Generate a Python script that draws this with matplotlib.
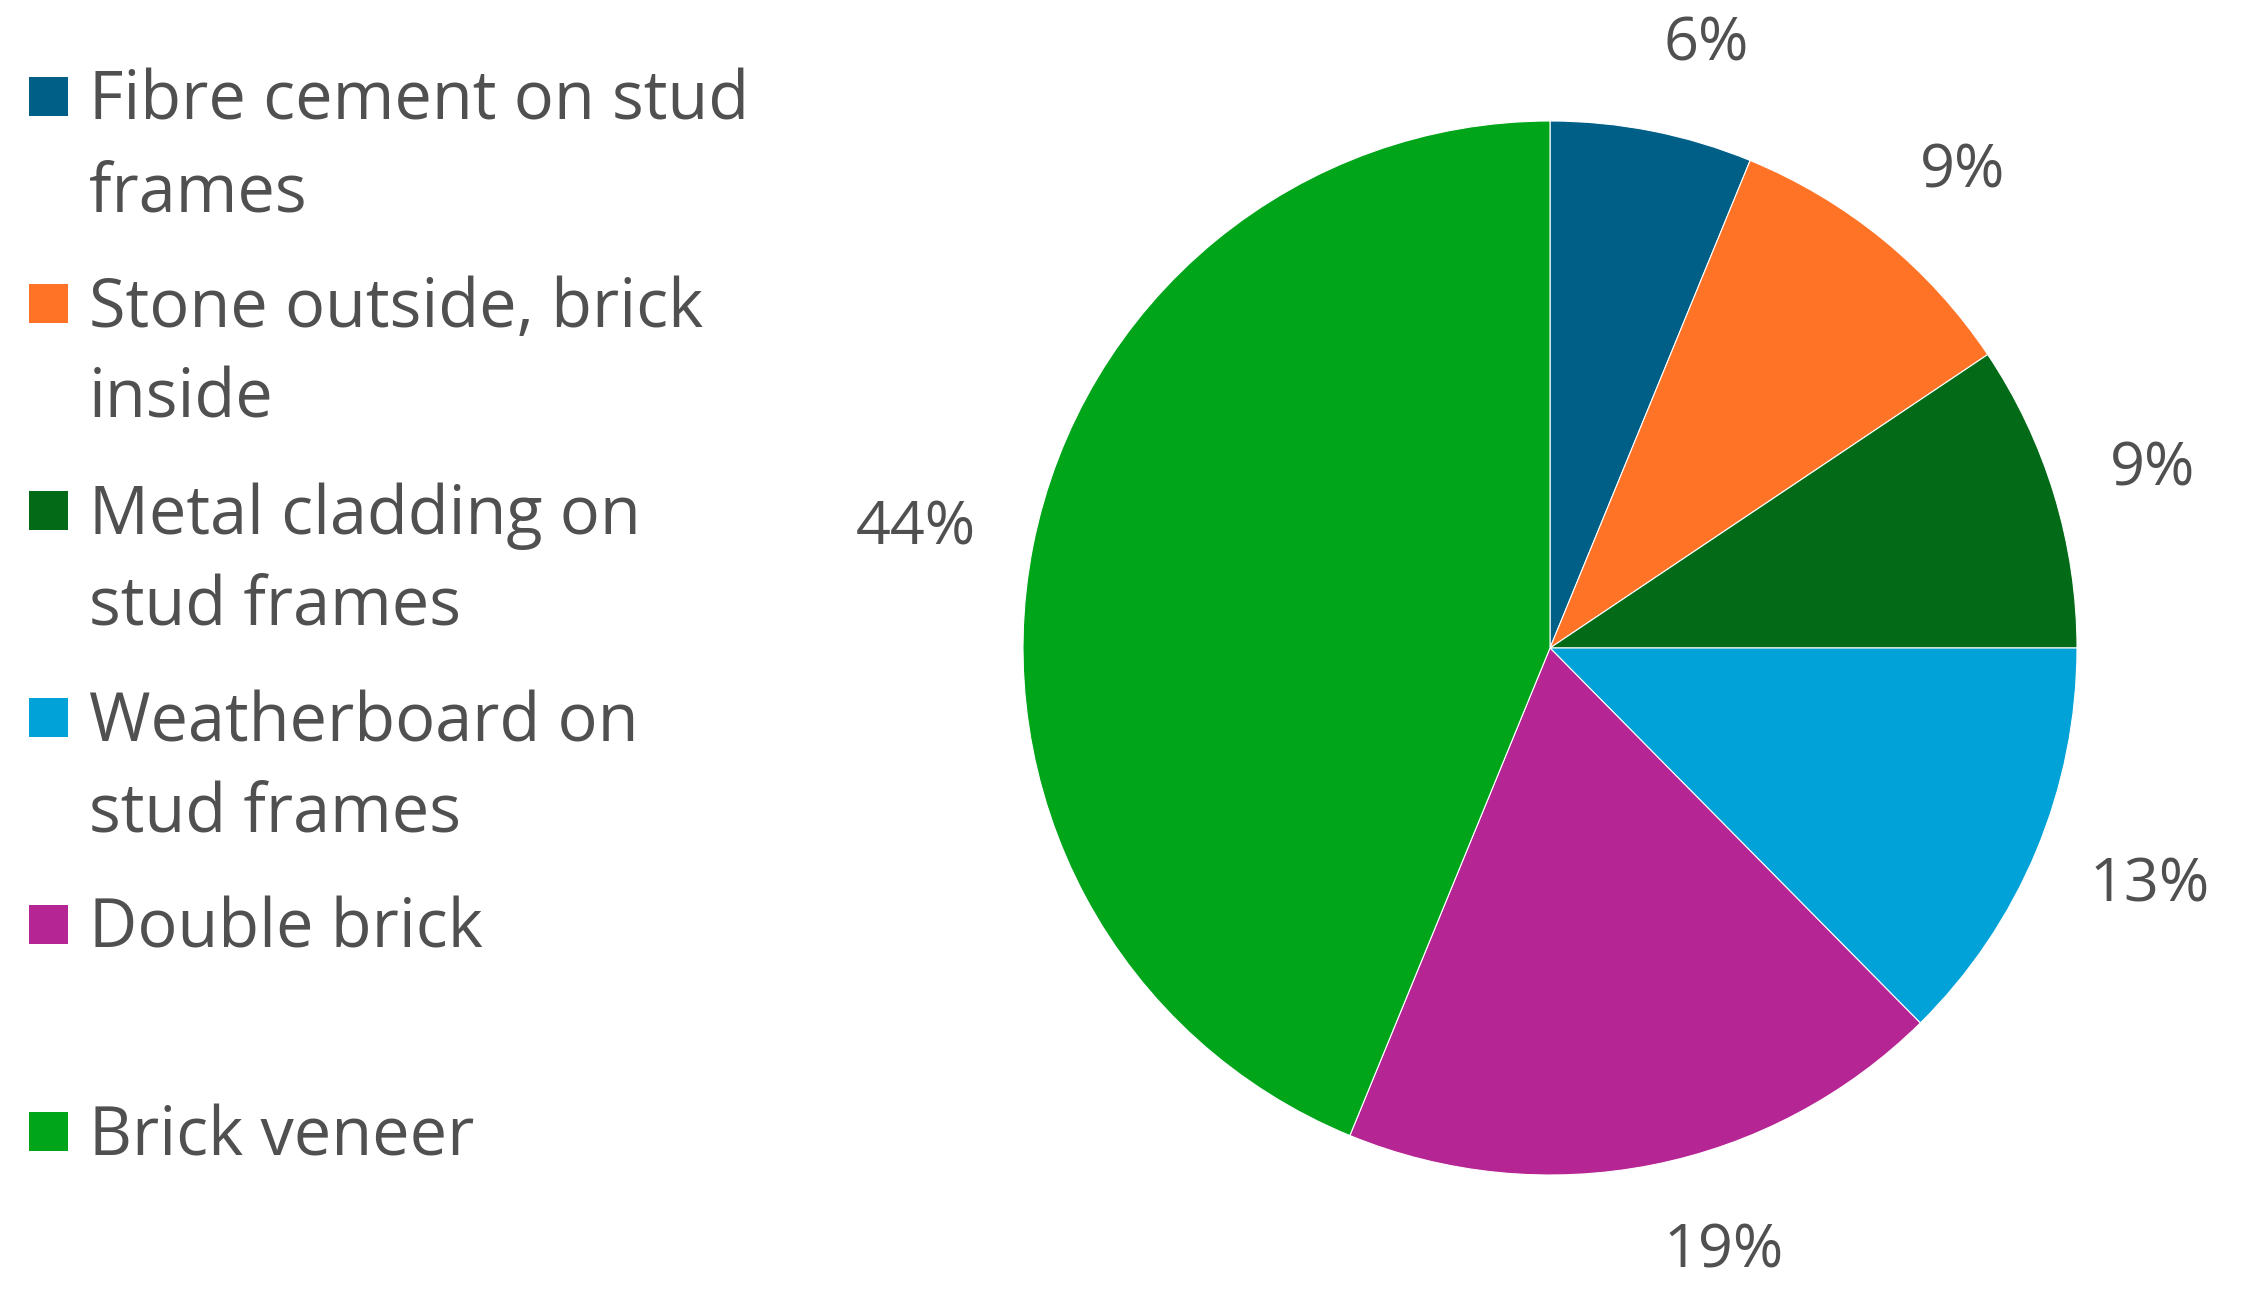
import matplotlib
matplotlib.use('Agg')
import matplotlib.pyplot as plt
from matplotlib.patches import Rectangle
import numpy as np

plt.rcParams['font.family'] = ['Open Sans', 'DejaVu Sans']

# data
categories = ['Fibre cement on stud\nframes', 'Stone outside, brick\ninside',
              'Metal cladding on\nstud frames', 'Weatherboard on\nstud frames',
              'Double brick', 'Brick veneer']
shares = [6.2, 9.4, 9.4, 12.6, 18.6, 43.8]
colors = ['#005F87', '#FF7326', '#036B17', '#00A2D8', '#B62594', '#00A51A']

TEXT = '#505050'
W, H = 2241, 1297

fig = plt.figure(figsize=(W / 100, H / 100), dpi=100, facecolor='white')

# pie: centre ~(1550, 648) px, radius ~527 px
cx, cy, r = 1550, 648, 527
ax = fig.add_axes([(cx - r) / W, (H - cy - r) / H, 2 * r / W, 2 * r / H])
wedges, texts, autotexts = ax.pie(
    shares, colors=colors, startangle=90, counterclock=False,
    autopct='%1.0f%%', pctdistance=1.2,
    wedgeprops=dict(edgecolor='white', linewidth=0.8),
    textprops=dict(fontsize=44, color=TEXT))
ax.set_xlim(-1, 1)
ax.set_ylim(-1, 1)
ax.set_aspect('auto')
ax.axis('off')

# put labels just outside the rim, like "outside end" labels
fig.canvas.draw()
rend = fig.canvas.get_renderer()
for w, t in zip(wedges, autotexts):
    ang = np.deg2rad((w.theta1 + w.theta2) / 2)
    bb = t.get_window_extent(rend)
    hw = bb.width / 2 / r
    hh = bb.height / 2 / r
    c, s = np.cos(ang), np.sin(ang)
    x = 1.11 * c + hw * np.sign(c)
    y = 1.11 * s + hh * s
    t.set_position((x, y))
    t.set_ha('center')
    t.set_va('center')

# legend on the left, each entry takes two text lines
first_base = 120
entry_gap = 207
line_gap = 91
for i, (lab, col) in enumerate(zip(categories, colors)):
    base = first_base + i * entry_gap
    sq_mid = base - 24
    fig.add_artist(Rectangle((29 / W, 1 - (sq_mid + 19.5) / H), 39 / W, 39 / H,
                             transform=fig.transFigure, facecolor=col, edgecolor='none'))
    for j, line in enumerate(lab.split('\n')):
        fig.text(89 / W, 1 - (base + j * line_gap) / H, line, fontsize=48,
                 color=TEXT, ha='left', va='baseline')

plt.savefig('out.png', dpi=100, facecolor='white')
plt.close()
